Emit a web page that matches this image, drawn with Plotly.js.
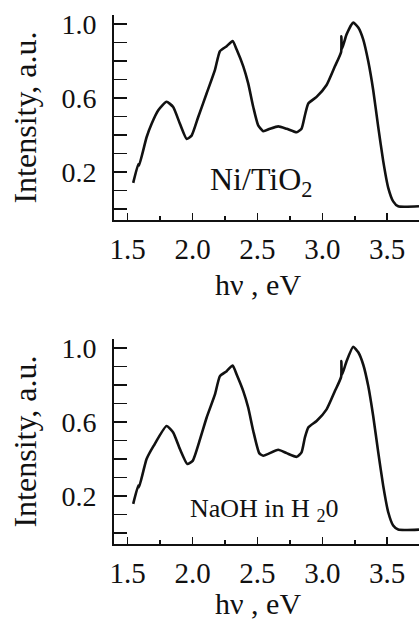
<!DOCTYPE html>
<html>
<head>
<meta charset="utf-8">
<script src="https://cdn.plot.ly/plotly-3.0.1.min.js"></script>
<style>html,body{margin:0;padding:0;background:#fff;}#chart{width:419px;height:622px;}</style>
</head>
<body>
<div id="chart"></div>
<script>
// Photon energy (eV) and intensity (a.u.)
var energyTop = [1.543,1.582,1.588,1.646,1.685,1.736,1.80,1.851,1.903,1.955,1.993,2.044,2.109,2.173,2.211,2.263,2.309,2.340,2.391,2.429,2.468,2.506,2.545,2.596,2.660,2.725,2.802,2.840,2.866,2.892,2.956,3.033,3.097,3.145,3.147,3.151,3.187,3.238,3.277,3.315,3.354,3.392,3.431,3.469,3.508,3.546,3.585,3.745];
var intensityTop = [0.141,0.242,0.235,0.388,0.461,0.534,0.580,0.552,0.461,0.379,0.397,0.498,0.626,0.753,0.854,0.881,0.909,0.863,0.772,0.680,0.552,0.452,0.421,0.434,0.447,0.434,0.415,0.434,0.507,0.571,0.607,0.671,0.772,0.850,0.935,0.865,0.945,1.009,0.982,0.918,0.799,0.644,0.443,0.260,0.114,0.041,0.014,0.014];

var energyBottom = [1.543,1.582,1.588,1.646,1.700,1.80,1.851,1.903,1.960,2.001,2.058,2.109,2.173,2.211,2.263,2.309,2.340,2.391,2.429,2.468,2.514,2.545,2.660,2.725,2.802,2.840,2.866,2.892,2.956,3.033,3.097,3.145,3.147,3.151,3.187,3.238,3.277,3.315,3.354,3.392,3.431,3.469,3.508,3.546,3.585,3.745];
var intensityBottom = [0.157,0.256,0.248,0.400,0.471,0.579,0.544,0.454,0.373,0.390,0.508,0.625,0.750,0.849,0.876,0.907,0.858,0.768,0.679,0.552,0.432,0.418,0.450,0.432,0.412,0.436,0.517,0.571,0.606,0.669,0.768,0.845,0.930,0.855,0.930,1.008,0.978,0.912,0.795,0.633,0.436,0.256,0.112,0.040,0.018,0.018];

var yTickVals = [0.2,0.6,1.0];
var yTickText = ['0.2','0.6','1.0'];
var xTickVals = [1.5,2.0,2.5,3.0,3.5];
var xTickText = ['1.5','2.0','2.5','3.0','3.5'];
var xTitle = 'h\u03bd , eV';
var yTitle = 'Intensity, a.u.';
var labelTop = 'Ni/TiO<sub>2</sub>';
var labelBottom = 'NaOH in H <sub>2</sub>0';

var F = 'Liberation Serif';
var ink = '#111';

function xAxis(dom) {
  return {
    domain: [0,1], range: [1.395, 3.745], anchor: dom,
    showgrid: false, zeroline: false, showline: true, linecolor: ink, linewidth: 2,
    tickmode: 'array', tickvals: xTickVals, ticktext: xTickText,
    ticks: 'inside', ticklen: 7, tickwidth: 1.5, tickcolor: ink,
    minor: {tickmode: 'linear', tick0: 1.25, dtick: 0.25, ticks: 'inside', ticklen: 4, tickwidth: 1.5, tickcolor: ink},
    tickfont: {family: F, size: 29, color: ink},
    ticklabelstandoff: 2,
    automargin: false, fixedrange: true
  };
}
function yAxis(domain, anchor) {
  return {
    domain: domain, range: [-0.06, 1.05], anchor: anchor,
    showgrid: false, zeroline: false, showline: true, linecolor: ink, linewidth: 2,
    tickmode: 'array', tickvals: yTickVals, ticktext: yTickText,
    ticks: 'inside', ticklen: 13, tickwidth: 1.5, tickcolor: ink,
    minor: {tickmode: 'linear', tick0: 0, dtick: 0.1, ticks: 'inside', ticklen: 13, tickwidth: 1.5, tickcolor: ink},
    tickfont: {family: F, size: 28, color: ink},
    ticklabelstandoff: 10,
    title: {text: yTitle, font: {family: F, size: 32, color: ink}, standoff: 15},
    automargin: false, fixedrange: true
  };
}

var traces = [
  {x: energyTop, y: intensityTop, xaxis: 'x', yaxis: 'y', mode: 'lines', line: {color: ink, width: 2.6, shape: 'spline', smoothing: 0.5}, hoverinfo: 'skip'},
  {x: energyBottom, y: intensityBottom, xaxis: 'x2', yaxis: 'y2', mode: 'lines', line: {color: ink, width: 2.6, shape: 'spline', smoothing: 0.5}, hoverinfo: 'skip'}
];

var layout = {
  width: 419, height: 622,
  margin: {l: 114, r: 0, t: 15, b: 78},
  paper_bgcolor: '#fff', plot_bgcolor: '#fff',
  showlegend: false,
  font: {family: F, color: ink},
  xaxis: xAxis('y'),
  yaxis: yAxis([0.6125, 1], 'x'),
  xaxis2: xAxis('y2'),
  yaxis2: yAxis([0, 0.3875], 'x2'),
  annotations: [
    {x: 0.472, y: -0.317, xref: 'x domain', yref: 'y domain', text: xTitle, showarrow: false, yanchor: 'middle', font: {family: F, size: 30, color: ink}},
    {x: 0.472, y: -0.292, xref: 'x2 domain', yref: 'y2 domain', text: xTitle, showarrow: false, yanchor: 'middle', font: {family: F, size: 30, color: ink}},
    {x: 2.535, y: 0.15, xref: 'x', yref: 'y', text: labelTop, showarrow: false, font: {family: F, size: 32, color: ink}},
    {x: 2.553, y: 0.125, xref: 'x2', yref: 'y2', text: labelBottom, showarrow: false, font: {family: F, size: 26, color: ink}}
  ]
};

Plotly.newPlot('chart', traces, layout, {staticPlot: true, displayModeBar: false});
</script>
</body>
</html>
